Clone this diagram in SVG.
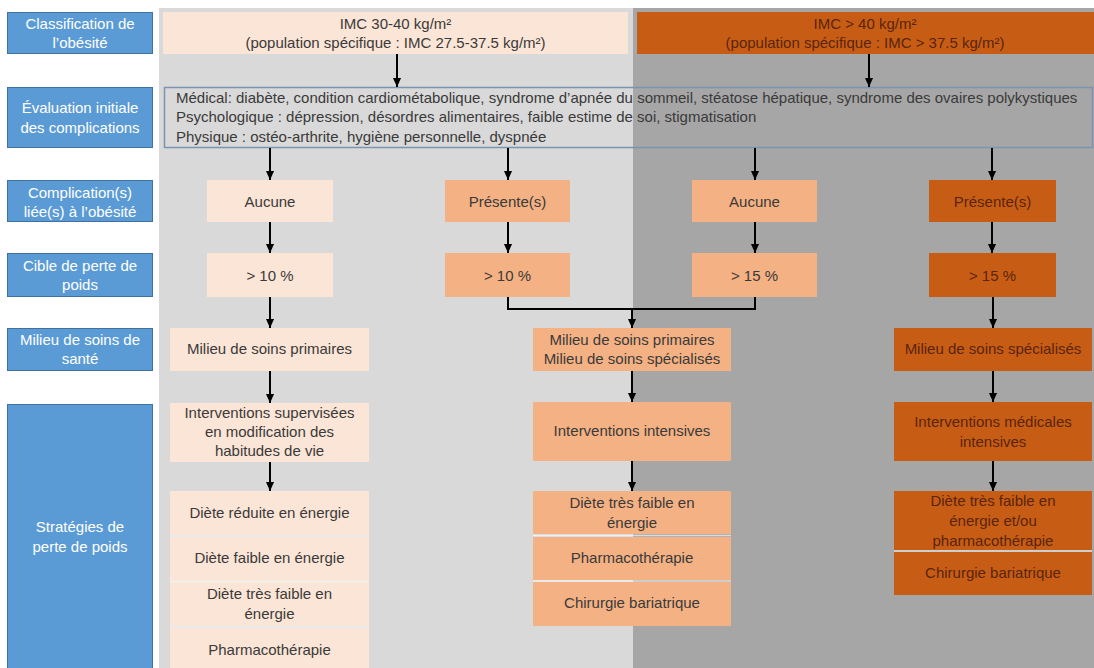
<svg xmlns="http://www.w3.org/2000/svg" width="1094" height="668" viewBox="0 0 1094 668">
<defs>
<marker id="ah" viewBox="0 0 10 10" refX="10" refY="5" markerWidth="9" markerHeight="9" markerUnits="userSpaceOnUse" orient="auto">
<path d="M0,0.5 L10,5 L0,9.5 z" fill="#000"/>
</marker>
</defs>
<style>
text{font-family:"Liberation Sans",Arial,sans-serif;font-size:15px}
.lbl rect{fill:#5b9bd5;stroke:#41719c;stroke-width:1}
.lbl text{fill:#fff;text-anchor:middle}
.t{text-anchor:middle;fill:#3a3a3a}
.td{text-anchor:middle;fill:#5a240a}
.pe{fill:#fbe5d6}
.lo{fill:#f4b183}
.do{fill:#c75d15}
.sep{stroke:#fff;stroke-opacity:0.6;stroke-width:1.5}
.conn path{stroke:#000;stroke-width:2;fill:none;marker-end:url(#ah)}
.conn .plain{marker-end:none}
</style>
<rect width="1094" height="668" fill="#fff"/>
<g id="background">
<rect x="159" y="8" width="474" height="660" fill="#d9d9d9"/>
<rect x="633" y="8" width="461" height="660" fill="#a6a6a6"/>
</g>

<g id="label-classification" class="lbl">
<rect x="7.5" y="12.5" width="145" height="41"/>
<text x="80" y="29">Classification de</text>
<text x="80" y="48">l’obésité</text>
</g>
<g id="label-evaluation" class="lbl">
<rect x="7.5" y="87.5" width="145" height="60"/>
<text x="80" y="113">Évaluation initiale</text>
<text x="80" y="133">des complications</text>
</g>
<g id="label-complications" class="lbl">
<rect x="7.5" y="180.5" width="145" height="41"/>
<text x="80" y="198">Complication(s)</text>
<text x="80" y="217">liée(s) à l’obésité</text>
</g>
<g id="label-cible" class="lbl">
<rect x="7.5" y="253.5" width="145" height="43"/>
<text x="80" y="271">Cible de perte de</text>
<text x="80" y="290">poids</text>
</g>
<g id="label-milieu" class="lbl">
<rect x="7.5" y="328.5" width="145" height="42"/>
<text x="80" y="345">Milieu de soins de</text>
<text x="80" y="364">santé</text>
</g>
<g id="label-strategies" class="lbl">
<rect x="7.5" y="404.5" width="145" height="270"/>
<text x="80" y="532">Stratégies de</text>
<text x="80" y="552">perte de poids</text>
</g>

<g id="imc-30-40">
<rect class="pe" x="163" y="12" width="465" height="42"/>
<text class="t" x="395.5" y="29">IMC 30-40 kg/m²</text>
<text class="t" x="395.5" y="48">(population spécifique : IMC 27.5-37.5 kg/m²)</text>
</g>
<g id="imc-40">
<rect class="do" x="637" y="12" width="457" height="42"/>
<text class="td" x="865" y="29">IMC &gt; 40 kg/m²</text>
<text class="td" x="865" y="48">(population spécifique : IMC &gt; 37.5 kg/m²)</text>
</g>

<g id="evaluation">
<rect x="164.5" y="87.5" width="928" height="60" fill="none" stroke="#7d93b2" stroke-width="1.5"/>
<text x="176" y="103" fill="#3a3a3a">Médical: diabète, condition cardiométabolique, syndrome d’apnée du sommeil, stéatose hépatique, syndrome des ovaires polykystiques</text>
<text x="176" y="122" fill="#3a3a3a">Psychologique : dépression, désordres alimentaires, faible estime de soi, stigmatisation</text>
<text x="176" y="142" fill="#3a3a3a">Physique : ostéo-arthrite, hygiène personnelle, dyspnée</text>
</g>

<g id="aucune-1">
<rect class="pe" x="207" y="180" width="126" height="42"/>
<text class="t" x="270" y="207">Aucune</text>
</g>
<g id="presente-1">
<rect class="lo" x="445" y="180" width="125" height="42"/>
<text class="t" x="507.5" y="207">Présente(s)</text>
</g>
<g id="aucune-2">
<rect class="lo" x="692" y="180" width="125" height="42"/>
<text class="t" x="754.5" y="207">Aucune</text>
</g>
<g id="presente-2">
<rect class="do" x="929" y="180" width="127" height="42"/>
<text class="td" x="992.5" y="207">Présente(s)</text>
</g>

<g id="cible-10-a">
<rect class="pe" x="207" y="253" width="126" height="44"/>
<text class="t" x="270" y="281">&gt; 10 %</text>
</g>
<g id="cible-10-b">
<rect class="lo" x="445" y="253" width="125" height="44"/>
<text class="t" x="507.5" y="281">&gt; 10 %</text>
</g>
<g id="cible-15-a">
<rect class="lo" x="692" y="253" width="125" height="44"/>
<text class="t" x="754.5" y="281">&gt; 15 %</text>
</g>
<g id="cible-15-b">
<rect class="do" x="929" y="253" width="127" height="44"/>
<text class="td" x="992.5" y="281">&gt; 15 %</text>
</g>

<g id="milieu-primaires">
<rect class="pe" x="170" y="328" width="199" height="43"/>
<text class="t" x="269.5" y="354">Milieu de soins primaires</text>
</g>
<g id="milieu-mixte">
<rect class="lo" x="533" y="328" width="198" height="43"/>
<text class="t" x="632" y="345">Milieu de soins primaires</text>
<text class="t" x="632" y="364">Milieu de soins spécialisés</text>
</g>
<g id="milieu-specialises">
<rect class="do" x="894" y="328" width="198" height="43"/>
<text class="td" x="993" y="354">Milieu de soins spécialisés</text>
</g>

<g id="interventions-supervisees">
<rect class="pe" x="170" y="403" width="199" height="59"/>
<text class="t" x="269.5" y="418">Interventions supervisées</text>
<text class="t" x="269.5" y="437">en modification des</text>
<text class="t" x="269.5" y="456">habitudes de vie</text>
</g>
<g id="interventions-intensives">
<rect class="lo" x="533" y="402" width="198" height="59"/>
<text class="t" x="632" y="436">Interventions intensives</text>
</g>
<g id="interventions-medicales">
<rect class="do" x="894" y="402" width="198" height="59"/>
<text class="td" x="993" y="427">Interventions médicales</text>
<text class="td" x="993" y="447">intensives</text>
</g>

<g id="strategies-col1">
<rect class="pe" x="170" y="491" width="199" height="44"/>
<text class="t" x="269.5" y="518">Diète réduite en énergie</text>
<rect class="pe" x="170" y="537" width="199" height="44"/>
<text class="t" x="269.5" y="563">Diète faible en énergie</text>
<rect class="pe" x="170" y="582" width="199" height="44"/>
<text class="t" x="269.5" y="599">Diète très faible en</text>
<text class="t" x="269.5" y="619">énergie</text>
<rect class="pe" x="170" y="628" width="199" height="44"/>
<text class="t" x="269.5" y="655">Pharmacothérapie</text>
<line class="sep" x1="170" y1="536" x2="369" y2="536"/>
<line class="sep" x1="170" y1="581.5" x2="369" y2="581.5"/>
<line class="sep" x1="170" y1="627" x2="369" y2="627"/>
</g>
<g id="strategies-col2">
<rect class="lo" x="533" y="491" width="198" height="43"/>
<text class="t" x="632" y="508">Diète très faible en</text>
<text class="t" x="632" y="528">énergie</text>
<rect class="lo" x="533" y="537" width="198" height="43"/>
<text class="t" x="632" y="563">Pharmacothérapie</text>
<rect class="lo" x="533" y="582" width="198" height="44"/>
<text class="t" x="632" y="608">Chirurgie bariatrique</text>
<line class="sep" x1="533" y1="535.5" x2="731" y2="535.5"/>
<line class="sep" x1="533" y1="581" x2="731" y2="581"/>
</g>
<g id="strategies-col3">
<rect class="do" x="894" y="491" width="198" height="59"/>
<text class="td" x="993" y="506">Diète très faible en</text>
<text class="td" x="993" y="526">énergie et/ou</text>
<text class="td" x="993" y="546">pharmacothérapie</text>
<rect class="do" x="894" y="552" width="198" height="43"/>
<text class="td" x="993" y="578">Chirurgie bariatrique</text>
<line class="sep" x1="894" y1="551" x2="1092" y2="551"/>
</g>

<g id="connectors" class="conn">
<path d="M397,54 V87"/>
<path d="M869,54 V87"/>
<path d="M270,148 V180"/>
<path d="M508,148 V180"/>
<path d="M755,148 V180"/>
<path d="M992,148 V180"/>
<path d="M270,222 V253"/>
<path d="M508,222 V253"/>
<path d="M755,222 V253"/>
<path d="M992,222 V253"/>
<path d="M270,297 V328"/>
<path class="plain" d="M508,297 V309 H755 V297"/>
<path d="M632,309 V328"/>
<path d="M993,297 V328"/>
<path d="M270,371 V403"/>
<path d="M632,371 V402"/>
<path d="M993,371 V402"/>
<path d="M270,462 V491"/>
<path d="M632,461 V491"/>
<path d="M993,461 V491"/>
</g>
</svg>
